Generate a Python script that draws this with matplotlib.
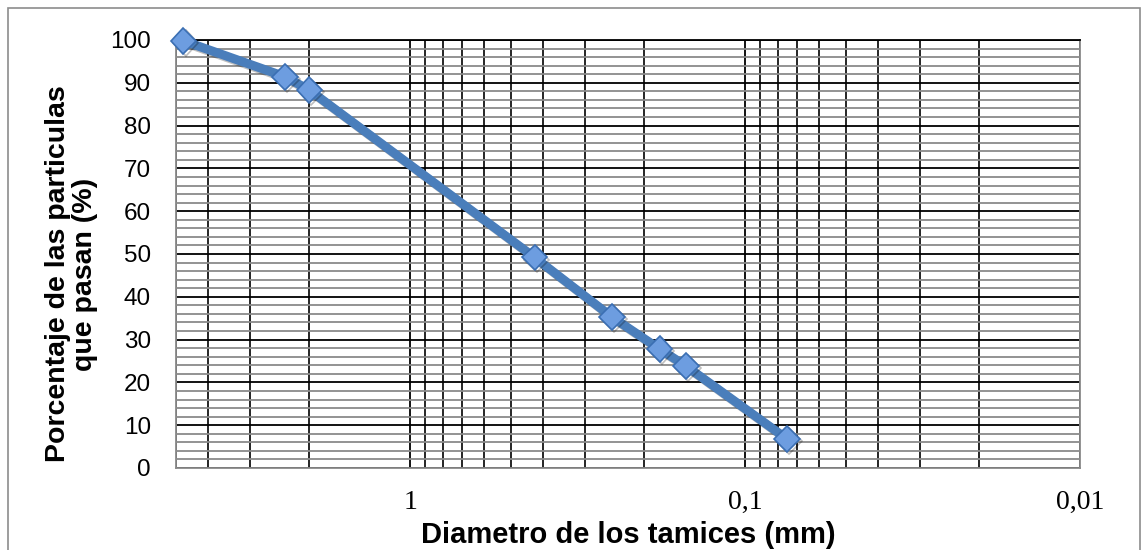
import matplotlib
matplotlib.use('Agg')
import matplotlib.pyplot as plt
import matplotlib.patheffects as pe
from matplotlib.ticker import FixedLocator, LogLocator, MultipleLocator, NullFormatter
from matplotlib.patches import Rectangle

# datos de la curva granulométrica
diametros = [4.75, 2.36, 2.0, 0.425, 0.25, 0.18, 0.15, 0.075]
pasa = [99.8, 91.4, 88.3, 49.2, 35.3, 27.8, 23.8, 6.8]
xticks = [1, 0.1, 0.01]
xticklabels = ['1', '0,1', '0,01']

plt.rcParams['font.family'] = ['Liberation Sans', 'DejaVu Sans']

W, H = 1142, 550
fig = plt.figure(figsize=(W / 100, H / 100), dpi=100)
ax = fig.add_axes([176 / W, 1 - 468 / H, (1080 - 176) / W, (468 - 40) / H])

# marco exterior del gráfico
fig.patches.append(Rectangle((8 / W, -0.1), (1140 - 8) / W, 1.1 - 8 / H,
                             transform=fig.transFigure, fill=False,
                             edgecolor='#8c8c8c', linewidth=1.2))

ax.set_xscale('log')
ax.set_xlim(5, 0.01)
ax.set_ylim(0, 100)

ax.xaxis.set_major_locator(FixedLocator(xticks))
ax.set_xticklabels(xticklabels, family='Liberation Serif', fontsize=20)
ax.xaxis.set_minor_locator(LogLocator(base=10, subs=range(2, 10)))
ax.xaxis.set_minor_formatter(NullFormatter())
ax.yaxis.set_major_locator(MultipleLocator(10))
ax.yaxis.set_minor_locator(MultipleLocator(2))

ax.tick_params(which='both', length=0)
ax.tick_params(axis='y', pad=18, labelsize=17.5)
ax.tick_params(axis='x', pad=16)

ax.grid(which='major', axis='both', color='black', linewidth=1.3)
ax.grid(which='minor', axis='x', color='black', linewidth=1.2)
ax.grid(which='minor', axis='y', color='#8a8a8a', linewidth=1.3)
ax.set_axisbelow(True)
for s in ax.spines.values():
    s.set_color('#8a8a8a')
    s.set_linewidth(1.3)
ax.spines['top'].set_color('black')

ax.plot(diametros, pasa, color='#4a7ebb', linewidth=6.5, marker='D', markersize=13,
        markerfacecolor='#6d9de0', markeredgecolor='#3b6fb3', markeredgewidth=1.2,
        clip_on=False, zorder=5,
        path_effects=[pe.SimpleLineShadow(offset=(1.5, -1.5), alpha=0.25), pe.Normal()])

# títulos de los ejes
fig.text(628 / W, 1 - 543 / H, 'Diametro de los tamices (mm)', fontsize=21,
         fontweight='bold', ha='center', va='baseline')
fig.text(72 / W, 1 - 274 / H, 'Porcentaje de las particulas\nque pasan (%)',
         fontsize=20.5, fontweight='bold', rotation=90, ha='center', va='center',
         multialignment='center', linespacing=1.05)

fig.savefig('out.png', dpi=100)
